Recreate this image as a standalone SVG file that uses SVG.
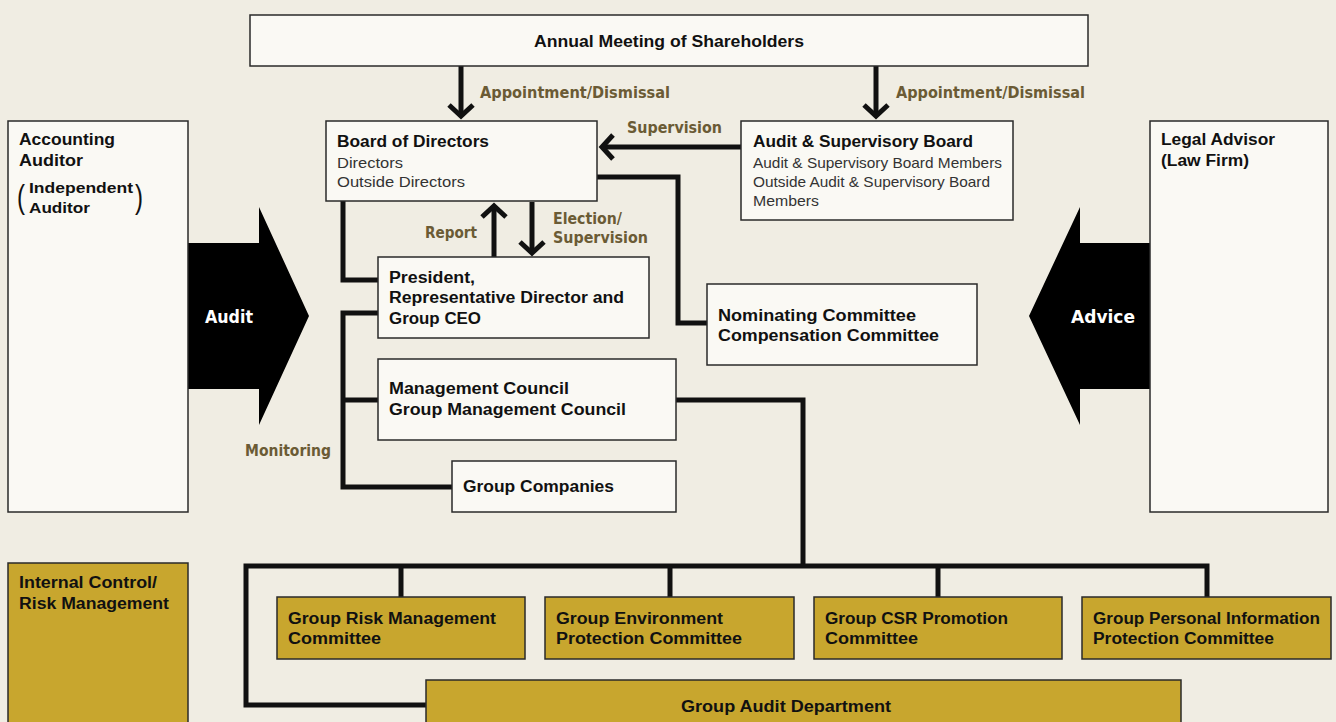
<svg xmlns="http://www.w3.org/2000/svg" width="1336" height="722" viewBox="0 0 1336 722">
<defs>
<style>
.bx{fill:#faf9f4;stroke:#2a2a2a;stroke-width:1.5}
.gd{fill:#c8a62e;stroke:#2a2a2a;stroke-width:1.5}
.t{font-family:"Liberation Sans",Arial,sans-serif;font-weight:bold;font-size:16px;fill:#111}
.l{font-family:"Liberation Sans",Arial,sans-serif;font-size:15px;fill:#333}
.p{font-family:"Liberation Sans",Arial,sans-serif;font-size:34px;fill:#111}
.lb{font-family:"DejaVu Sans Condensed","DejaVu Sans",sans-serif;font-stretch:condensed;font-weight:bold;font-size:15px;fill:#6b5b35}
.w{font-family:"DejaVu Sans Condensed","DejaVu Sans",sans-serif;font-stretch:condensed;font-weight:bold;font-size:18px;fill:#fff}
.c{fill:none;stroke:#111;stroke-width:5;stroke-linejoin:miter}
</style>
<marker id="ah" markerUnits="userSpaceOnUse" markerWidth="30" markerHeight="30" refX="0" refY="0" orient="auto" overflow="visible">
<path d="M-11,-12 L0,0 L-11,12" fill="none" stroke="#111" stroke-width="5"/>
</marker>
</defs>
<rect width="1336" height="722" fill="#f0ede3"/>

<g id="arrows-big">
<polygon points="188,243 259,243 259,207 309,316 259,425 259,389 188,389" fill="#000"/>
<text class="w" x="205" y="323" textLength="48" lengthAdjust="spacingAndGlyphs">Audit</text>
<polygon points="1150,243 1080,243 1080,207 1029,316 1080,425 1080,389 1150,389" fill="#000"/>
<text class="w" x="1071" y="323" textLength="64" lengthAdjust="spacingAndGlyphs">Advice</text>
</g>

<g id="connectors">
<path class="c" d="M461,66 V116" marker-end="url(#ah)"/>
<path class="c" d="M876,66 V116" marker-end="url(#ah)"/>
<path class="c" d="M741,147 H602" marker-end="url(#ah)"/>
<path class="c" d="M494,257 V206" marker-end="url(#ah)"/>
<path class="c" d="M532,202 V253" marker-end="url(#ah)"/>
<path class="c" d="M343,201 V280 H378"/>
<path class="c" d="M378,313 H343 V487 H452"/>
<path class="c" d="M343,400 H378"/>
<path class="c" d="M597,177 H678 V323 H707"/>
<path class="c" d="M676,400 H803 V566"/>
<path class="c" d="M426,705 H246 V566 H1207 V598"/>
<path class="c" d="M401,566 V598 M670,566 V598 M938,566 V598"/>
<text class="lb" x="480" y="98" textLength="190" lengthAdjust="spacingAndGlyphs">Appointment/Dismissal</text>
<text class="lb" x="896" y="98" textLength="189" lengthAdjust="spacingAndGlyphs">Appointment/Dismissal</text>
<text class="lb" x="627" y="133" textLength="95" lengthAdjust="spacingAndGlyphs">Supervision</text>
<text class="lb" x="425" y="238" textLength="52" lengthAdjust="spacingAndGlyphs">Report</text>
<text class="lb" x="553" y="224" textLength="69" lengthAdjust="spacingAndGlyphs">Election/</text>
<text class="lb" x="553" y="243" textLength="95" lengthAdjust="spacingAndGlyphs">Supervision</text>
<text class="lb" x="245" y="456" textLength="86" lengthAdjust="spacingAndGlyphs">Monitoring</text>
</g>

<g id="annual">
<rect class="bx" x="250" y="15" width="838" height="51"/>
<text class="t" x="534" y="47" textLength="270" lengthAdjust="spacingAndGlyphs">Annual Meeting of Shareholders</text>
</g>

<g id="board">
<rect class="bx" x="326" y="121" width="271" height="80"/>
<text class="t" x="337" y="147" textLength="152" lengthAdjust="spacingAndGlyphs">Board of Directors</text>
<text class="l" x="337" y="168" textLength="66" lengthAdjust="spacingAndGlyphs">Directors</text>
<text class="l" x="337" y="187" textLength="128" lengthAdjust="spacingAndGlyphs">Outside Directors</text>
</g>

<g id="asb">
<rect class="bx" x="741" y="121" width="272" height="99"/>
<text class="t" x="753" y="147" textLength="220" lengthAdjust="spacingAndGlyphs">Audit &amp; Supervisory Board</text>
<text class="l" x="753" y="168" textLength="249" lengthAdjust="spacingAndGlyphs">Audit &amp; Supervisory Board Members</text>
<text class="l" x="753" y="187" textLength="237" lengthAdjust="spacingAndGlyphs">Outside Audit &amp; Supervisory Board</text>
<text class="l" x="753" y="206" textLength="66" lengthAdjust="spacingAndGlyphs">Members</text>
</g>

<g id="accounting">
<rect class="bx" x="8" y="121" width="180" height="391"/>
<text class="t" x="19" y="145" textLength="96" lengthAdjust="spacingAndGlyphs">Accounting</text>
<text class="t" x="19" y="166" textLength="64" lengthAdjust="spacingAndGlyphs">Auditor</text>
<text class="p" x="17" y="208" textLength="8" lengthAdjust="spacingAndGlyphs">(</text>
<text class="t" x="29" y="193" style="font-size:15px" textLength="104" lengthAdjust="spacingAndGlyphs">Independent</text>
<text class="t" x="29" y="213" style="font-size:15px" textLength="61" lengthAdjust="spacingAndGlyphs">Auditor</text>
<text class="p" x="135" y="208" textLength="8" lengthAdjust="spacingAndGlyphs">)</text>
</g>

<g id="legal">
<rect class="bx" x="1150" y="121" width="178" height="391"/>
<text class="t" x="1161" y="145" textLength="114" lengthAdjust="spacingAndGlyphs">Legal Advisor</text>
<text class="t" x="1161" y="166" textLength="88" lengthAdjust="spacingAndGlyphs">(Law Firm)</text>
</g>

<g id="president">
<rect class="bx" x="378" y="257" width="271" height="81"/>
<text class="t" x="389" y="283" textLength="86" lengthAdjust="spacingAndGlyphs">President,</text>
<text class="t" x="389" y="303" textLength="235" lengthAdjust="spacingAndGlyphs">Representative Director and</text>
<text class="t" x="389" y="324" textLength="92" lengthAdjust="spacingAndGlyphs">Group CEO</text>
</g>

<g id="nominating">
<rect class="bx" x="707" y="284" width="270" height="81"/>
<text class="t" x="718" y="321" textLength="198" lengthAdjust="spacingAndGlyphs">Nominating Committee</text>
<text class="t" x="718" y="341" textLength="221" lengthAdjust="spacingAndGlyphs">Compensation Committee</text>
</g>

<g id="management">
<rect class="bx" x="378" y="359" width="298" height="81"/>
<text class="t" x="389" y="394" textLength="180" lengthAdjust="spacingAndGlyphs">Management Council</text>
<text class="t" x="389" y="415" textLength="237" lengthAdjust="spacingAndGlyphs">Group Management Council</text>
</g>

<g id="companies">
<rect class="bx" x="452" y="461" width="224" height="51"/>
<text class="t" x="463" y="492" textLength="151" lengthAdjust="spacingAndGlyphs">Group Companies</text>
</g>

<g id="internal">
<rect class="gd" x="8" y="563" width="180" height="170"/>
<text class="t" x="19" y="588" textLength="138" lengthAdjust="spacingAndGlyphs">Internal Control/</text>
<text class="t" x="19" y="609" textLength="150" lengthAdjust="spacingAndGlyphs">Risk Management</text>
</g>

<g id="risk">
<rect class="gd" x="277" y="597" width="248" height="62"/>
<text class="t" x="288" y="624" textLength="208" lengthAdjust="spacingAndGlyphs">Group Risk Management</text>
<text class="t" x="288" y="644" textLength="93" lengthAdjust="spacingAndGlyphs">Committee</text>
</g>

<g id="environment">
<rect class="gd" x="545" y="597" width="249" height="62"/>
<text class="t" x="556" y="624" textLength="167" lengthAdjust="spacingAndGlyphs">Group Environment</text>
<text class="t" x="556" y="644" textLength="186" lengthAdjust="spacingAndGlyphs">Protection Committee</text>
</g>

<g id="csr">
<rect class="gd" x="814" y="597" width="248" height="62"/>
<text class="t" x="825" y="624" textLength="183" lengthAdjust="spacingAndGlyphs">Group CSR Promotion</text>
<text class="t" x="825" y="644" textLength="93" lengthAdjust="spacingAndGlyphs">Committee</text>
</g>

<g id="personal">
<rect class="gd" x="1082" y="597" width="249" height="62"/>
<text class="t" x="1093" y="624" textLength="227" lengthAdjust="spacingAndGlyphs">Group Personal Information</text>
<text class="t" x="1093" y="644" textLength="181" lengthAdjust="spacingAndGlyphs">Protection Committee</text>
</g>

<g id="auditdept">
<rect class="gd" x="426" y="680" width="755" height="60"/>
<text class="t" x="681" y="712" textLength="210" lengthAdjust="spacingAndGlyphs">Group Audit Department</text>
</g>
</svg>
